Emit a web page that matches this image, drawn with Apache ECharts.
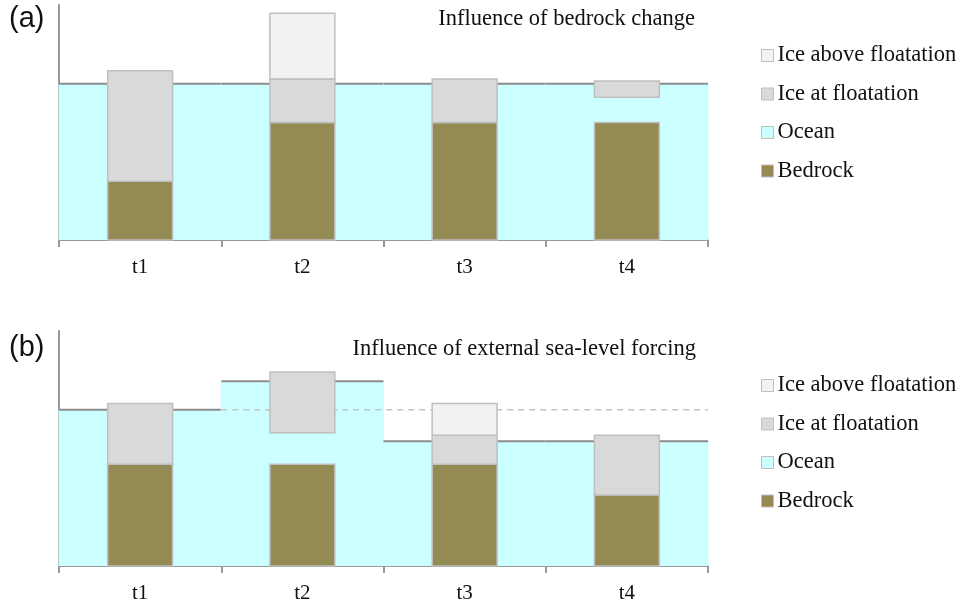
<!DOCTYPE html>
<html>
<head>
<meta charset="utf-8">
<script src="https://cdn.jsdelivr.net/npm/echarts@6/dist/echarts.min.js"></script>
<style>html,body{margin:0;padding:0;background:#fff;}#c{width:960px;height:606px;}</style>
</head>
<body>
<div id="c"></div>
<script>
// ---------- data ----------
const categories = ['t1', 't2', 't3', 't4'];
const legendNames = ['Ice above floatation', 'Ice at floatation', 'Ocean', 'Bedrock'];

// Panel (a): Influence of bedrock change
const seaA = [66.5, 66.5, 66.5, 66.5];
const bedrockA = [25, 50, 50, 50];
const iceFloatBottomA = [25, 50, 50, 60.7];
const iceFloatTopA = [72, 68.5, 68.5, 67.7];
const iceAboveTopA = [null, 96.5, null, null];

// Panel (b): Influence of external sea-level forcing
const seaB = [66.5, 78.6, 53.1, 53.1];
const refSeaB = 66.5;           // reference sea level, dashed
const refSeaFromTo = [1, 3];    // categories spanned by the dashed line
const bedrockB = [43.3, 43.3, 43.3, 30.2];
const iceFloatBottomB = [43.3, 56.7, 43.3, 30.2];
const iceFloatTopB = [69.2, 82.6, 55.6, 55.6];
const iceAboveTopB = [null, null, 69.2, null];

const titleA = 'Influence of bedrock change';
const titleB = 'Influence of external sea-level forcing';

// ---------- styles ----------
const C = {
  ocean: '#ccffff', bedrock: '#948a54', iceFloat: '#d9d9d9', iceAbove: '#f2f2f2',
  barBorder: '#bfbfbf', seaLine: '#8c8c8c', axis: '#999999', dash: '#c4c4c4'
};
const SERIF = "'Liberation Serif', 'Times New Roman', serif";
const SANS = "'Liberation Sans', Arial, sans-serif";

function barRender(params, api) {
  const idx = api.value(0);
  const bottom = api.coord([idx, api.value(1)]);
  const top = api.coord([idx, api.value(2)]);
  const w = api.size([1, 0])[0] * 0.4;
  return {
    type: 'rect',
    shape: { x: top[0] - w / 2, y: top[1], width: w, height: bottom[1] - top[1] },
    style: { fill: api.visual('color'), stroke: C.barBorder, lineWidth: 1.5 }
  };
}
function oceanRender(params, api) {
  const idx = api.value(0);
  const top = api.coord([idx, api.value(1)]);
  const base = api.coord([idx, 0]);
  const w = api.size([1, 0])[0];
  const x0 = top[0] - w / 2, x1 = top[0] + w / 2;
  return {
    type: 'group',
    children: [
      { type: 'rect', shape: { x: x0 - 0.5, y: top[1], width: w + 1, height: base[1] - top[1] },
        style: { fill: C.ocean } },
      { type: 'line', shape: { x1: x0, y1: top[1], x2: x1, y2: top[1] },
        style: { stroke: C.seaLine, lineWidth: 2 } }
    ]
  };
}
function dashRender(params, api) {
  const a = api.coord([api.value(0), api.value(2)]);
  const b = api.coord([api.value(1), api.value(2)]);
  const w = api.size([1, 0])[0];
  return {
    type: 'line',
    shape: { x1: a[0] - w / 2, y1: a[1], x2: b[0] + w / 2, y2: b[1] },
    style: { stroke: C.dash, lineWidth: 1.5, lineDash: [6, 5] }
  };
}
function seg(bottoms, tops) {
  const out = [];
  tops.forEach((t, i) => { if (t != null) out.push([i, bottoms[i], t]); });
  return out;
}
function panelSeries(k, sea, bedrock, fb, ft, at, ref) {
  const base = { type: 'custom', xAxisIndex: k, yAxisIndex: k, encode: { x: 0, y: [1, 2] } };
  const s = [
    Object.assign({}, base, { name: 'Ocean', z: 1, encode: { x: 0, y: 1 },
      itemStyle: { color: C.ocean }, renderItem: oceanRender,
      data: sea.map((v, i) => [i, v]) }),
    Object.assign({}, base, { name: 'Bedrock', z: 3, itemStyle: { color: C.bedrock },
      renderItem: barRender, data: bedrock.map((v, i) => [i, 0, v]) }),
    Object.assign({}, base, { name: 'Ice at floatation', z: 3, itemStyle: { color: C.iceFloat },
      renderItem: barRender, data: seg(fb, ft) }),
    Object.assign({}, base, { name: 'Ice above floatation', z: 3, itemStyle: { color: C.iceAbove },
      renderItem: barRender, data: seg(ft, at) })
  ];
  if (ref) {
    s.push(Object.assign({}, base, { name: 'ref', z: 2, encode: { x: [0, 1], y: 2 },
      renderItem: dashRender, data: [[ref.from, ref.to, ref.level]] }));
  }
  return s;
}

function xAxisFor(k) {
  return {
    type: 'category', gridIndex: k, data: categories, boundaryGap: true,
    axisLine: { show: true, lineStyle: { color: C.axis, width: 2 } },
    axisTick: { show: true, length: 7, lineStyle: { color: C.axis, width: 2 } },
    axisLabel: { fontFamily: SERIF, fontSize: 21, color: '#111', margin: 17 },
    splitLine: { show: false }
  };
}
function yAxisFor(k) {
  return {
    type: 'value', gridIndex: k, min: 0, max: 100,
    axisLine: { show: true, lineStyle: { color: C.axis, width: 2 } },
    axisTick: { show: false }, axisLabel: { show: false }, splitLine: { show: false }
  };
}
function legendFor(top) {
  const cols = { 'Ice above floatation': C.iceAbove, 'Ice at floatation': C.iceFloat, 'Ocean': C.ocean, 'Bedrock': C.bedrock };
  return {
    orient: 'vertical', left: 761, top: top, padding: 0, itemGap: 15.5,
    itemWidth: 12, itemHeight: 12, icon: 'rect', selectedMode: false,
    textStyle: { fontFamily: SERIF, fontSize: 22.5, color: '#111', padding: [0, 0, 0, -1] },
    data: legendNames.map(n => ({ name: n, itemStyle: { color: cols[n], borderColor: C.barBorder, borderWidth: 1 } }))
  };
}

const chart = echarts.init(document.getElementById('c'), null, { renderer: 'canvas' });
chart.setOption({
  animation: false,
  backgroundColor: '#fff',
  title: [
    { text: '(a)', left: 9, top: 4, padding: 0, textStyle: { fontFamily: SANS, fontSize: 29, fontWeight: 'normal', color: '#111' } },
    { text: '(b)', left: 9, top: 333, padding: 0, textStyle: { fontFamily: SANS, fontSize: 29, fontWeight: 'normal', color: '#111' } },
    { text: titleA, right: 265, top: 8, padding: 0, textStyle: { fontFamily: SERIF, fontSize: 22.5, fontWeight: 'normal', color: '#111' } },
    { text: titleB, right: 264, top: 338, padding: 0, textStyle: { fontFamily: SERIF, fontSize: 22.5, fontWeight: 'normal', color: '#111' } }
  ],
  legend: [legendFor(44), legendFor(374)],
  grid: [
    { left: 59, width: 649, top: 5, height: 235 },
    { left: 59, width: 649, top: 331, height: 235 }
  ],
  xAxis: [xAxisFor(0), xAxisFor(1)],
  yAxis: [yAxisFor(0), yAxisFor(1)],
  series: [].concat(
    panelSeries(0, seaA, bedrockA, iceFloatBottomA, iceFloatTopA, iceAboveTopA, null),
    panelSeries(1, seaB, bedrockB, iceFloatBottomB, iceFloatTopB, iceAboveTopB,
      { from: refSeaFromTo[0], to: refSeaFromTo[1], level: refSeaB })
  )
});
</script>
</body>
</html>
